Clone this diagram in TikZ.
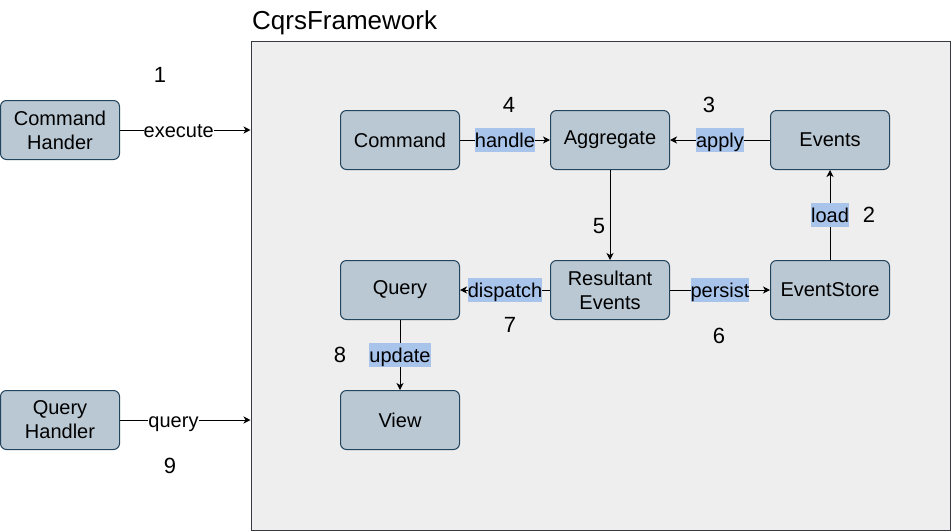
\documentclass[tikz,border=0pt]{standalone}
\usepackage{fontspec}
\setmainfont{Liberation Sans}
\usetikzlibrary{arrows.meta}
\definecolor{nodefill}{HTML}{BAC8D3}
\definecolor{nodeline}{HTML}{23445D}
\definecolor{framefill}{HTML}{EEEEEE}
\definecolor{frameline}{HTML}{36393D}
\definecolor{hl}{HTML}{A9C4EB}
\begin{document}
\begin{tikzpicture}[x=1pt,y=-1pt,
  box/.style={draw=nodeline, fill=nodefill, rounded corners=6pt, minimum width=119pt, minimum height=59pt, inner sep=0pt, align=center, font=\fontsize{20}{24}\selectfont, line width=1pt},
  lbl/.style={fill=hl, inner xsep=0pt, inner ysep=1pt, text height=18pt, text depth=4pt, font=\fontsize{20}{24}\selectfont},
  wlbl/.style={lbl, fill=white},
  num/.style={font=\fontsize{22}{26}\selectfont, inner sep=0pt},
  conn/.style={draw=black, line width=1pt, -{Stealth[length=7pt,width=7pt,inset=2pt]}}
]
\useasboundingbox (0,0) rectangle (951,531);
\node[draw=frameline, fill=framefill, line width=1pt, minimum width=699pt, minimum height=489pt, inner sep=0pt, anchor=north west] (frame) at (250.5,40.5) {};
\node[anchor=base west, font=\fontsize{26}{30}\selectfont, inner sep=0pt] (title) at (252,29) {CqrsFramework};

\node[box] (cmdh) at (60,130) {Command\\Hander};
\node[box] (qh) at (60,420) {Query\\Handler};
\node[box] (cmd) at (400,140) {Command};
\node[box] (agg) at (610,140) {Aggregate};
\node[box] (ev) at (830,140) {Events};
\node[box] (qry) at (400,290) {Query};
\node[box] (res) at (610,290) {Resultant\\Events};
\node[box] (es) at (830,290) {EventStore};
\node[box] (view) at (400,420) {View};

\draw[conn] (cmdh.east) -- node[wlbl, pos=0.45] (lexec) {execute} (frame.west |- cmdh.east);
\draw[conn] (qh.east) -- node[wlbl, pos=0.41] (lquery) {query} (frame.west |- qh.east);
\draw[conn] (cmd) -- node[lbl] (lhandle) {handle} (agg);
\draw[conn] (ev) -- node[lbl] (lapply) {apply} (agg);
\draw[conn] (es) -- node[lbl] (lload) {load} (ev);
\draw[conn] (agg) -- (res);
\draw[conn] (res) -- node[lbl] (lpersist) {persist} (es);
\draw[conn] (res) -- node[lbl] (ldispatch) {dispatch} (qry);
\draw[conn] (qry) -- node[lbl] (lupdate) {update} (view);

\node[num] (n1) at (160,75) {1};
\node[num] (n2) at (869,215) {2};
\node[num] (n3) at (709,105) {3};
\node[num] (n4) at (509,105) {4};
\node[num] (n5) at (599,226) {5};
\node[num] (n6) at (719,336) {6};
\node[num] (n7) at (510,325) {7};
\node[num] (n8) at (340,355) {8};
\node[num] (n9) at (170,466) {9};
\end{tikzpicture}
\end{document}
